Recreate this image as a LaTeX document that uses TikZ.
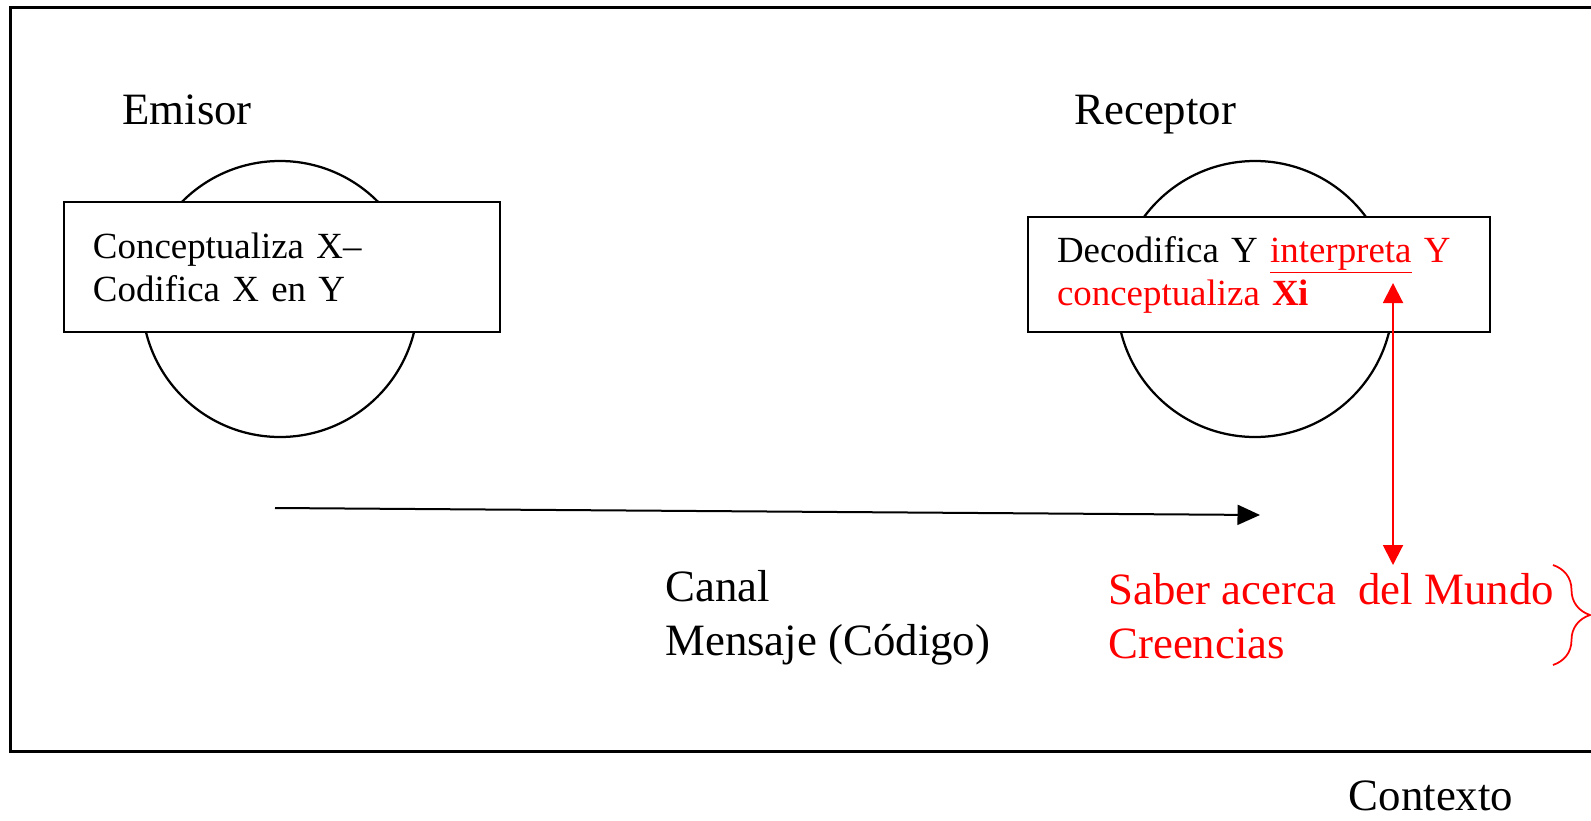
\documentclass[tikz,border=0pt]{standalone}
\usepackage{fontspec}
\setmainfont{Liberation Serif}
\usepackage{tikz}
\usetikzlibrary{arrows.meta,decorations.pathreplacing}

\begin{document}
\begin{tikzpicture}[x=0.2mm, y=-0.2mm,
    rotulo/.style={inner sep=0pt, font=\fontsize{25.5}{30.5}\selectfont, align=left},
    cajatexto/.style={draw, line width=0.5mm, fill=white, align=left, inner xsep=5.8mm,
        font=\fontsize{21}{24.5}\selectfont},
    persona/.style={draw, circle, line width=0.45mm, minimum size=55.2mm}]
    \useasboundingbox (0,0) rectangle (1591,821);
    \draw[line width=0.6mm] (10,8) rectangle (1610,751);
    \foreach \n/\x in {emisorcirc/280, receptorcirc/1255}{
        \node[persona] (\n) at (\x,299) {};
    }
    \node[cajatexto, text width=75.6mm, minimum height=26mm] (emisorbox) at (282,267)
        {Conceptualiza X–\\Codifica X en Y};
    \node[cajatexto, text width=80.8mm, minimum height=23mm] (receptorbox) at (1259,274.5)
        {Decodifica Y \textcolor{red}{\underline{interpreta} Y}\\
         \textcolor{red}{conceptualiza \textbf{Xi}}};
    \node[rotulo, anchor=base west] (emisor) at (122,125) {Emisor};
    \node[rotulo, anchor=base west] (receptor) at (1074,125) {Receptor};
    \node[rotulo, anchor=west] (canal) at (665,618) {Canal\\Mensaje (Código)};
    \node[rotulo, anchor=west, text=red] (saber) at (1108,616) {Saber acerca\ \ del Mundo\\Creencias};
    \node[rotulo, anchor=base] (contexto) at (1431,810) {Contexto};
    \coordinate (canalini) at (275,508);
    \coordinate (canalfin) at (1260,515);
    \draw[line width=0.4mm, -{Triangle[length=4.5mm, width=4mm]}] (canalini) -- (canalfin);
    \coordinate (interpreta) at (1393,283);
    \coordinate (saberarriba) at (1393,565);
    \draw[red, line width=0.4mm, {Triangle[length=4mm, width=4mm]}-{Triangle[length=4mm, width=4mm]}]
        (saberarriba) -- (interpreta);
    \draw[red, line width=0.35mm, decorate, decoration={brace, amplitude=7.4mm}] (1553,565) -- (1553,665);
\end{tikzpicture}
\end{document}
